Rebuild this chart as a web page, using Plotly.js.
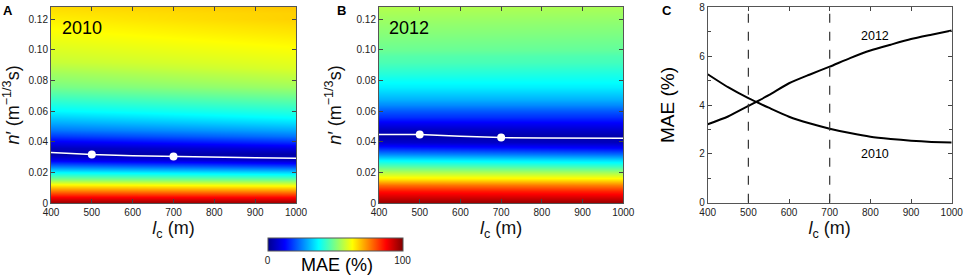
<!DOCTYPE html>
<html>
<head>
<meta charset="utf-8">
<script src="https://cdn.plot.ly/plotly-3.0.1.min.js"></script>
<style>
  html, body { margin: 0; padding: 0; background: #fff; }
  #chart { width: 964px; height: 275px; }
</style>
</head>
<body>
<div id="chart"></div>
<script>
// ---------- DATA ----------
// l_c columns of the MAE maps (m)
const lcCols = [400, 1000];
// n' rows of the MAE maps (m^-1/3 s)
const nRows = [0, 0.004, 0.008, 0.012, 0.016, 0.020, 0.024, 0.028, 0.032, 0.036, 0.040,
  0.044, 0.048, 0.052, 0.056, 0.060, 0.064, 0.068, 0.072, 0.076, 0.080, 0.084, 0.088,
  0.092, 0.096, 0.100, 0.104, 0.108, 0.112, 0.116, 0.120, 0.124, 0.128];

// MAE (%) profiles (2010)
const mae2010_lc400 = [98, 88, 76, 64, 50, 37, 24, 11, 3, 5, 11, 18, 24, 29, 33, 37, 40, 43,
  46, 49, 51, 53, 55, 57, 58, 59, 60, 61, 62, 63, 64, 65, 66];
const mae2010_lc1000 = [98, 87, 74, 61, 47, 33, 19, 6, 3, 9, 17, 24, 29, 34, 38, 41, 44, 47,
  50, 53, 55, 57, 59, 60, 61, 62, 63, 64, 65, 66, 67, 67, 68];

// MAE (%) profiles (2012)
const mae2012_lc400 = [98, 92, 86, 77, 65, 55, 46, 37, 26, 16, 7, 3, 5, 11, 17, 21, 26, 30,
  33, 36, 38, 41, 43, 45, 46, 48, 49, 50, 51, 52, 53, 54, 55];
const mae2012_lc1000 = [98, 91, 84, 75, 64, 53, 43, 34, 23, 13, 5, 3, 7, 12, 17, 21, 26, 30,
  33, 36, 38, 40, 42, 44, 45, 47, 48, 49, 50, 51, 52, 53, 54];

// Optimal n' line vs l_c
const lcOpt = [400, 500, 600, 700, 800, 900, 1000];
const nOpt2010 = [0.0329, 0.0316, 0.0309, 0.0303, 0.0298, 0.0295, 0.0292];
const nOpt2012 = [0.0447, 0.0447, 0.0436, 0.0427, 0.0425, 0.0424, 0.0423];

// Selected l_c values (dots / dashed lines)
const selectedLc = [500, 700];

// Panel C: minimum MAE vs l_c
const lcLine = [400, 450, 500, 550, 600, 650, 700, 750, 800, 850, 900, 950, 1000];
const minMae2012 = [3.21, 3.53, 3.96, 4.40, 4.89, 5.24, 5.57, 5.92, 6.23, 6.47, 6.70, 6.88, 7.05];
const minMae2010 = [5.26, 4.73, 4.28, 3.89, 3.52, 3.25, 3.03, 2.85, 2.70, 2.61, 2.54, 2.49, 2.46];

const nTickVals = [0, 0.02, 0.04, 0.06, 0.08, 0.10, 0.12];
const nTickText = ['0', '0.02', '0.04', '0.06', '0.08', '0.10', '0.12'];
const lcTickVals = [400, 500, 600, 700, 800, 900, 1000];
const maeTickVals = [0, 2, 4, 6, 8];
const cbTickVals = [0, 100];

// ---------- BUILD ----------
const W = 964, H = 275;
const px = v => v / W;
const py = v => 1 - v / H;
const FONT = 'Arial, "Liberation Sans", sans-serif';

const jet = [[0, '#00008F'], [0.125, '#0000FF'], [0.375, '#00FFFF'],
             [0.625, '#FFFF00'], [0.875, '#FF0000'], [1, '#800000']];

const zA = nRows.map((_, j) => [mae2010_lc400[j], mae2010_lc1000[j]]);
const zB = nRows.map((_, j) => [mae2012_lc400[j], mae2012_lc1000[j]]);

function pick(xs, ys, keep) {
  const ox = [], oy = [];
  xs.forEach((x, i) => { if (keep.includes(x)) { ox.push(x); oy.push(ys[i]); } });
  return {x: ox, y: oy};
}
const dotsA = pick(lcOpt, nOpt2010, selectedLc);
const dotsB = pick(lcOpt, nOpt2012, selectedLc);

const traces = [
  {type: 'heatmap', x: lcCols, y: nRows, z: zA, zsmooth: 'best', coloraxis: 'coloraxis',
   xaxis: 'x', yaxis: 'y', hoverinfo: 'skip'},
  {type: 'heatmap', x: lcCols, y: nRows, z: zB, zsmooth: 'best', coloraxis: 'coloraxis',
   xaxis: 'x2', yaxis: 'y2', hoverinfo: 'skip'},
  {type: 'scatter', mode: 'lines', x: lcOpt, y: nOpt2010, xaxis: 'x', yaxis: 'y',
   line: {color: '#ffffff', width: 1.5}, showlegend: false},
  {type: 'scatter', mode: 'markers', x: dotsA.x, y: dotsA.y, xaxis: 'x', yaxis: 'y',
   marker: {color: '#ffffff', size: 8}, showlegend: false},
  {type: 'scatter', mode: 'lines', x: lcOpt, y: nOpt2012, xaxis: 'x2', yaxis: 'y2',
   line: {color: '#ffffff', width: 1.5}, showlegend: false},
  {type: 'scatter', mode: 'markers', x: dotsB.x, y: dotsB.y, xaxis: 'x2', yaxis: 'y2',
   marker: {color: '#ffffff', size: 8}, showlegend: false},
  {type: 'scatter', mode: 'lines', x: lcLine, y: minMae2012, xaxis: 'x3', yaxis: 'y3',
   line: {color: '#000', width: 2, shape: 'spline', smoothing: 0.6}, showlegend: false},
  {type: 'scatter', mode: 'lines', x: lcLine, y: minMae2010, xaxis: 'x3', yaxis: 'y3',
   line: {color: '#000', width: 2, shape: 'spline', smoothing: 0.6}, showlegend: false}
];

const axisBase = {
  showline: true, linecolor: '#555', linewidth: 1, mirror: 'allticks',
  ticks: 'inside', ticklen: 4, tickwidth: 1, tickcolor: '#444',
  showgrid: false, zeroline: false, fixedrange: true,
  tickfont: {family: FONT, size: 10, color: '#222'}
};
const xTitle = {text: '<i>l</i><sub>c</sub> (m)', font: {family: FONT, size: 18, color: '#111'}, standoff: 4};
const nTitle = {text: '<i>n</i>′ (m<sup>−1/3</sup>s)', font: {family: FONT, size: 18, color: '#111'}, standoff: 10};

function xAx(dom, anchor) {
  return Object.assign({}, axisBase, {domain: dom, anchor: anchor, range: [400, 1000],
    tickvals: lcTickVals, title: xTitle});
}
function nAx(dom, anchor) {
  return Object.assign({}, axisBase, {domain: dom, anchor: anchor, range: [0, 0.128],
    tickvals: nTickVals, ticktext: nTickText, title: nTitle});
}

function ann(text, x, y, size, bold, angle) {
  return {text: bold ? '<b>' + text + '</b>' : text, x: px(x), y: py(y),
    xref: 'paper', yref: 'paper', xanchor: 'center', yanchor: 'middle', showarrow: false,
    textangle: angle || 0, font: {family: FONT, size: size, color: '#000'}};
}

const yDomHM = [py(203), py(7)];
const layout = {
  width: W, height: H,
  margin: {l: 0, r: 0, t: 0, b: 0},
  paper_bgcolor: '#fff', plot_bgcolor: '#fff',
  showlegend: false,
  font: {family: FONT},
  xaxis: xAx([px(51), px(296)], 'y'),
  yaxis: nAx(yDomHM, 'x'),
  xaxis2: xAx([px(379), px(623.3)], 'y2'),
  yaxis2: nAx(yDomHM, 'x2'),
  xaxis3: xAx([px(707.7), px(951.7)], 'y3'),
  yaxis3: Object.assign({}, axisBase, {domain: [py(202.7), py(7.3)], anchor: 'x3',
    range: [0, 8], tickvals: maeTickVals,
    minor: {dtick: 1, ticks: 'inside', ticklen: 3, tickcolor: '#444'}}),
  coloraxis: {
    cmin: 0, cmax: 100, colorscale: jet,
    colorbar: {
      orientation: 'h', x: px(335), xanchor: 'center', y: py(238.3), yanchor: 'top',
      lenmode: 'pixels', len: 135, thicknessmode: 'pixels', thickness: 13,
      outlinewidth: 1, outlinecolor: '#555', xpad: 0, ypad: 0,
      tickvals: cbTickVals, ticks: '', ticklen: 0,
      tickfont: {family: FONT, size: 10, color: '#222'}
    }
  },
  shapes: selectedLc.map(v => ({type: 'line', xref: 'x3', yref: 'y3', x0: v, x1: v, y0: 0, y1: 8,
    line: {color: '#333', width: 1.2, dash: 'dash'}})),
  annotations: [
    ann('A', 8, 10, 13, true),
    ann('B', 341, 10, 13, true),
    ann('C', 667, 10, 13, true),
    ann('2010', 82, 28, 18),
    ann('2012', 409, 28, 18),
    ann('2012', 875, 36, 12.5),
    ann('2010', 875, 154, 12.5),
    ann('MAE (%)', 667, 105, 19, false, -90),
    ann('MAE (%)', 337, 265, 18)
  ]
};

Plotly.newPlot('chart', traces, layout, {staticPlot: true, displayModeBar: false});
</script>
</body>
</html>
